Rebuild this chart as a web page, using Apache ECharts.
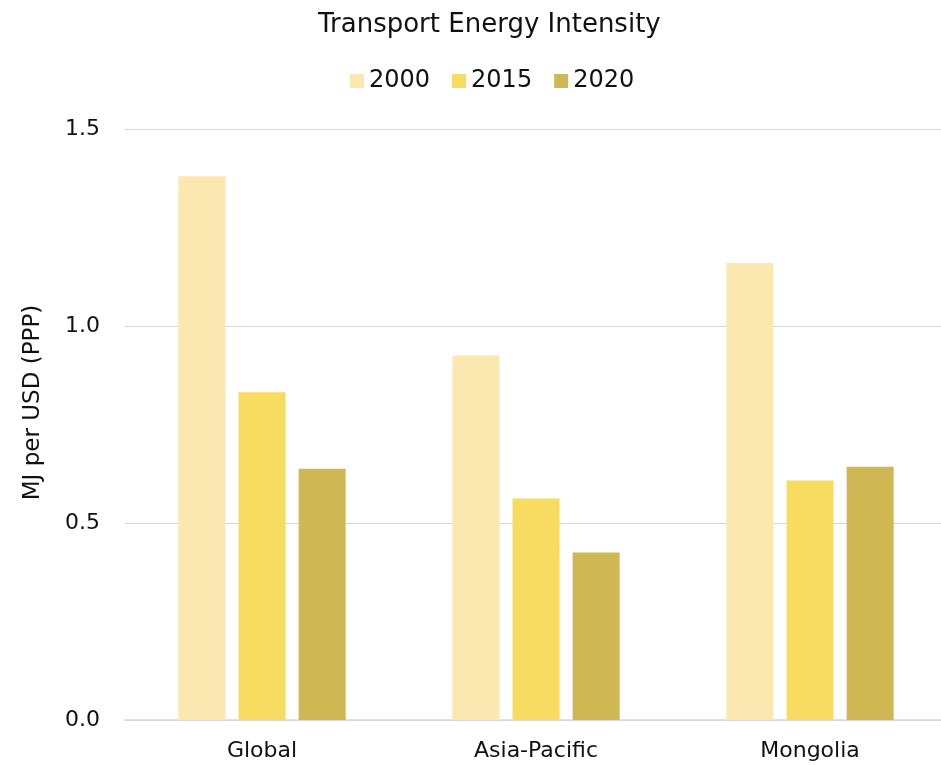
<!DOCTYPE html>
<html><head><meta charset="utf-8">
<script src="https://cdn.jsdelivr.net/npm/echarts@6/dist/echarts.min.js"></script>
<style>html,body{margin:0;padding:0;background:#fff}#c{width:941px;height:765px}</style>
</head><body><div id="c"></div>
<script>
const categories = ['Global', 'Asia-Pacific', 'Mongolia'];
const seriesNames = ['2000', '2015', '2020'];
const v2000 = [1.38, 0.925, 1.16];
const v2015 = [0.832, 0.562, 0.608];
const v2020 = [0.638, 0.425, 0.643];
const colors = ['#FBE7B0', '#F8DB61', '#CFB853'];
const FONT = '"DejaVu Sans", sans-serif';
const chart = echarts.init(document.getElementById('c'), null, {renderer: 'canvas'});
const data = [v2000, v2015, v2020];
chart.setOption({
  animation: false,
  textStyle: {fontFamily: FONT},
  title: {text: 'Transport Energy Intensity', left: 313, top: 7,
    textStyle: {fontFamily: FONT, fontSize: 26, fontWeight: 'normal', color: '#111'}},
  legend: {data: seriesNames, top: 64, left: 345, itemWidth: 14, itemHeight: 14, itemGap: 22,
    icon: 'rect', textStyle: {fontFamily: FONT, fontSize: 24, color: '#111'}},
  grid: {left: 125, width: 822, top: 129, bottom: 45, containLabel: false, outerBoundsMode: 'none'},
  xAxis: {type: 'category', data: categories,
    axisLine: {lineStyle: {color: '#d9d9d9', width: 1.5}}, axisTick: {show: false},
    axisLabel: {fontFamily: FONT, fontSize: 22, color: '#111', margin: 20}},
  yAxis: {type: 'value', min: 0, max: 1.5, interval: 0.5,
    name: 'MJ per USD (PPP)', nameLocation: 'middle', nameGap: 80,
    nameTextStyle: {fontFamily: FONT, fontSize: 23, color: '#111', padding: [0, 0, 0, 44]},
    axisLabel: {fontFamily: FONT, fontSize: 22, color: '#111', margin: 25,
      formatter: v => v.toFixed(1)},
    splitLine: {lineStyle: {color: '#d9d9d9', width: 1.2}},
    axisLine: {show: false}, axisTick: {show: false}},
  series: seriesNames.map((n, i) => ({
    name: n, type: 'bar', data: data[i], barWidth: 47, barGap: '28%',
    itemStyle: {color: colors[i]}
  }))
});
</script></body></html>
